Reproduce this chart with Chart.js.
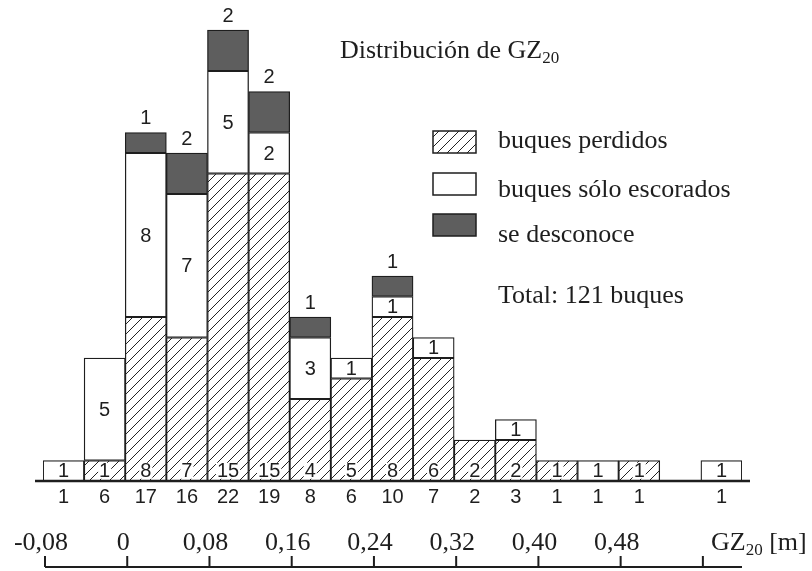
<!DOCTYPE html>
<html><head><meta charset="utf-8">
<script src="https://cdn.jsdelivr.net/npm/chart.js@4.4.1/dist/chart.umd.min.js"></script>
<style>html,body{margin:0;background:#fff}</style>
</head><body>
<canvas id="c" width="812" height="571"></canvas>
<script>
// bins of 0.04 m, left edge label
const bins=["-0,08","-0,04","0","0,04","0,08","0,12","0,16","0,20","0,24","0,28","0,32","0,36","0,40","0,44","0,48","0,52","0,56"]
const perdidos=[0,1,8,7,15,15,4,5,8,6,2,2,1,0,1,0,0]
const escorados=[1,5,8,7,5,2,3,1,1,1,0,1,0,1,0,0,1]
const desconoce=[0,0,1,2,2,2,1,0,1,0,0,0,0,0,0,0,0]
const totales=[1,6,17,16,22,19,8,6,10,7,2,3,1,1,1,0,1]
const gzTicks=[-0.08,0,0.08,0.16,0.24,0.32,0.40,0.48,0.56]
const gzLabels=["-0,08","0","0,08","0,16","0,24","0,32","0,40","0,48",""]
const gzMin=-0.08,gzMax=0.60,binW=0.04

const sans="'Liberation Sans', Arial, sans-serif"
const serif="'Liberation Serif', 'Times New Roman', serif"
const ink="#1e1e1e"
const dark="#5e5e5e"

// diagonal hatch
const pc=document.createElement("canvas")
pc.width=10;pc.height=10
const p=pc.getContext("2d")
p.fillStyle="#fff";p.fillRect(0,0,10,10)
p.strokeStyle="#222";p.lineWidth=1
p.beginPath()
p.moveTo(-1,11);p.lineTo(11,-1)
p.moveTo(-6,6);p.lineTo(6,-6)
p.moveTo(4,16);p.lineTo(16,4)
p.stroke()
const ctx=document.getElementById("c").getContext("2d")
const hatch=ctx.createPattern(pc,"repeat")

function sub(c,x,y,main,idx,rest,size){
  c.font=size+"px "+serif
  c.textAlign="left";c.textBaseline="alphabetic"
  c.fillText(main,x,y)
  let w=c.measureText(main).width
  c.font=Math.round(size*0.64)+"px "+serif
  c.fillText(idx,x+w,y+5)
  w+=c.measureText(idx).width
  if(rest){c.font=size+"px "+serif;c.fillText(rest,x+w,y)}
}

const extras={
  id:"extras",
  afterDatasetsDraw(chart){
    const c=chart.ctx,x=chart.scales.x,y=chart.scales.y
    const y0=y.getPixelForValue(0)
    // GZ value -> pixel through the category scale (bin centres)
    const gzPx=v=>x.getPixelForValue((v-gzMin)/binW-0.5)
    c.save()
    c.fillStyle=ink
    c.font="20px "+sans
    c.textAlign="center";c.textBaseline="middle"
    // counts inside/above bars
    bins.forEach((b,i)=>{
      const cx=x.getPixelForValue(i)
      if(perdidos[i]){
        const t=String(perdidos[i]),yy=y.getPixelForValue(0.5)
        const w=c.measureText(t).width
        c.fillStyle="#fff";c.fillRect(cx-w/2-1,yy-8,w+2,16)
        c.fillStyle=ink;c.fillText(t,cx,yy+1)
      }
      if(escorados[i]){
        const el=chart.getDatasetMeta(1).data[i]
        c.fillText(String(escorados[i]),cx,(el.y+el.base)/2+1)
      }
      if(desconoce[i]){
        const el=chart.getDatasetMeta(2).data[i]
        c.fillText(String(desconoce[i]),cx,el.y-14)
      }
      if(totales[i]) c.fillText(String(totales[i]),cx,y0+16)
    })
    // baseline
    c.strokeStyle=ink;c.lineWidth=2.5
    c.beginPath();c.moveTo(35,y0);c.lineTo(750,y0);c.stroke()
    // GZ axis
    const ay=567
    c.lineWidth=2
    c.beginPath();c.moveTo(gzPx(gzMin)+2,ay);c.lineTo(gzPx(gzMax),ay)
    gzTicks.forEach(v=>{const px=gzPx(v)+2;c.moveTo(px,ay);c.lineTo(px,ay-11)})
    c.stroke()
    c.font="26px "+serif;c.textBaseline="alphabetic"
    gzTicks.forEach((v,i)=>{if(gzLabels[i])c.fillText(gzLabels[i],gzPx(v)-2,550)})
    sub(c,711,550,"GZ","20"," [m]",26)
    // title
    sub(c,340,58,"Distribución de GZ","20","",26)
    // legend
    const ds=chart.data.datasets
    const rows=[[131,148],[173,197],[214,242]]
    ds.forEach((d,k)=>{
      c.fillStyle=d.backgroundColor
      c.fillRect(433,rows[k][0],43,22)
      c.strokeStyle=ink;c.lineWidth=1.5
      c.strokeRect(433,rows[k][0],43,22)
      c.fillStyle=ink;c.font="26px "+serif;c.textAlign="left"
      c.fillText(d.label,498,rows[k][1])
    })
    c.fillText("Total: 121 buques",498,303)
    c.restore()
  }
}

const nz=a=>a.map(v=>v||null)
new Chart(ctx,{
  type:"bar",
  data:{labels:bins,datasets:[
    {label:"buques perdidos",data:nz(perdidos),backgroundColor:hatch,borderColor:ink,borderWidth:1.3},
    {label:"buques sólo escorados",data:nz(escorados),backgroundColor:"#fff",borderColor:ink,borderWidth:1.3},
    {label:"se desconoce",data:nz(desconoce),backgroundColor:dark,borderColor:ink,borderWidth:1.3}
  ]},
  options:{
    responsive:false,animation:false,
    layout:{padding:{left:43,right:70,top:9.5,bottom:90}},
    datasets:{bar:{barPercentage:1,categoryPercentage:1,borderSkipped:false}},
    plugins:{legend:{display:false},tooltip:{enabled:false}},
    scales:{
      x:{display:false,stacked:true},
      y:{display:false,stacked:true,min:0,max:23}
    }
  },
  plugins:[extras]
})
</script>
</body></html>
